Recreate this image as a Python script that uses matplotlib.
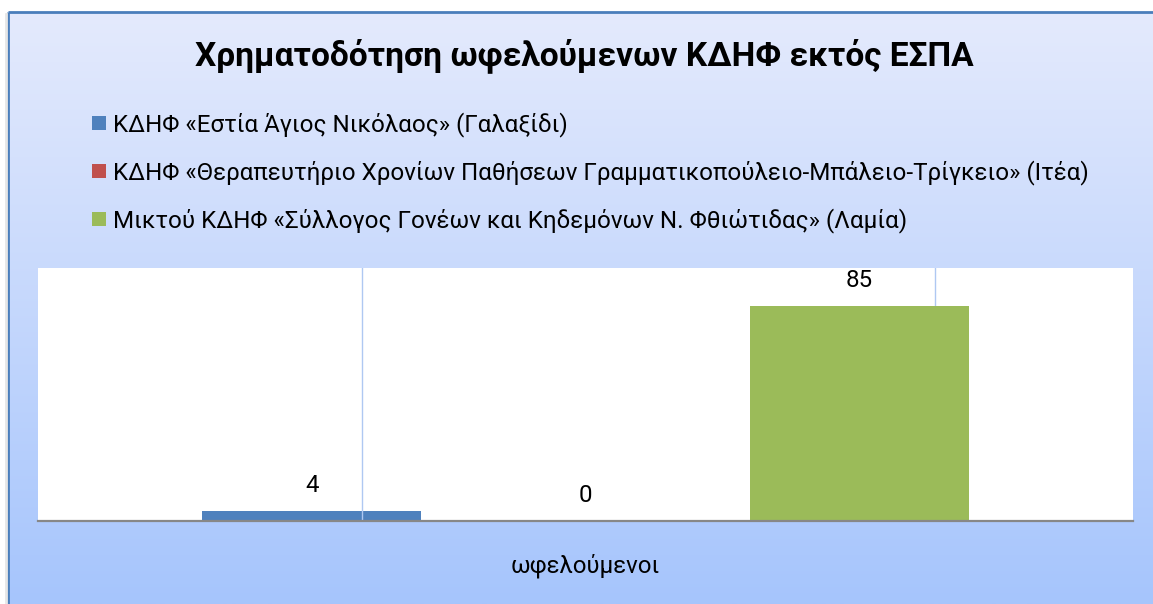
import numpy as np
import matplotlib
matplotlib.use("Agg")
import matplotlib.pyplot as plt
from matplotlib.patches import Rectangle

# ---- data ----
title = "Χρηματοδότηση ωφελούμενων ΚΔΗΦ εκτός ΕΣΠΑ"
category = "ωφελούμενοι"
series_names = [
    "ΚΔΗΦ «Εστία Άγιος Νικόλαος» (Γαλαξίδι)",
    "ΚΔΗΦ «Θεραπευτήριο Χρονίων Παθήσεων Γραμματικοπούλειο-Μπάλειο-Τρίγκειο» (Ιτέα)",
    "Μικτού ΚΔΗΦ «Σύλλογος Γονέων και Κηδεμόνων Ν. Φθιώτιδας» (Λαμία)",
]
series_values = [4, 0, 85]
series_colors = ["#4F81BD", "#C0504D", "#9BBB59"]

FAM = ["Roboto", "DejaVu Sans"]
plt.rcParams["font.family"] = FAM

W, H = 1153, 604
fig = plt.figure(figsize=(W / 100, H / 100), dpi=100)
fig.patch.set_facecolor("white")
renderer = fig.canvas.get_renderer()


def fit(text, target_px, weight="normal"):
    t = fig.text(0, 0, text, fontsize=20, fontweight=weight)
    w = t.get_window_extent(renderer).width
    t.remove()
    return 20 * target_px / w


def fx(px):
    return px / W


def fy(py):
    return 1 - py / H


# ---- background with gradient and border ----
bg = fig.add_axes([0, 0, 1, 1], zorder=-10)
bg.set_xlim(0, W)
bg.set_ylim(H, 0)
bg.axis("off")
top = np.array([228, 234, 253]) / 255
bot = np.array([166, 197, 252]) / 255
tt = np.linspace(0, 1, 256)[:, None]
grad = (top[None, :] * (1 - tt) + bot[None, :] * tt)[:, None, :]
bg.imshow(grad, extent=(9, W, H, 13), aspect="auto", interpolation="bilinear")
bg.plot([8, 8], [H, 12], color="#4A7EBB", lw=2, solid_capstyle="butt")
bg.plot([8, W], [12, 12], color="#4A7EBB", lw=2, solid_capstyle="butt")
bg.plot([6, 6], [H, 14], color="#E6E6E6", lw=2)

# ---- plot area ----
ax = fig.add_axes([fx(38), fy(521), fx(1133) - fx(38), fy(268) - fy(521)])
ax.set_facecolor("white")
n = len(series_values)
pos = np.arange(n) - (n - 1) / 2
ax.set_xlim(-2, 2)
ax.set_ylim(0, 100)
ax.axvline(-0.817, color="#AFC8F2", lw=1, zorder=2)
ax.axvline(1.278, color="#AFC8F2", lw=1, zorder=0.5)
bars = ax.bar(pos, series_values, width=0.8, color=series_colors, zorder=1)
for s in ["top", "left", "right"]:
    ax.spines[s].set_visible(False)
ax.spines["bottom"].set_color("#878787")
ax.spines["bottom"].set_linewidth(1.6)
ax.spines["bottom"].set_zorder(3)
ax.set_xticks([])
ax.set_yticks([])

lab_fs = fit(category, 149)
labels = ax.bar_label(bars, labels=[str(v) for v in series_values], padding=13.5,
                      fontsize=lab_fs, color="black")
for t in labels:
    t.set_va("baseline")

fig.text(fx(585.5), fy(572), category, ha="center", va="baseline",
         fontsize=lab_fs, color="black")

# ---- title ----
t_fs = fit(title, 777, "bold")
fig.text(fx(584.5), fy(65), title, ha="center", va="baseline",
         fontsize=t_fs, fontweight="bold", color="black")

# ---- legend ----
leg_fs = fit(series_names[1], 975)
for i, (name, col) in enumerate(zip(series_names, series_colors)):
    base = 131 + 48 * i
    fig.add_artist(Rectangle((fx(92), fy(base - 1)), fx(14), fy(0) - fy(14),
                             transform=fig.transFigure, facecolor=col,
                             edgecolor="none"))
    fig.text(fx(113), fy(base), name, ha="left", va="baseline",
             fontsize=leg_fs, color="black")

fig.savefig("out.png", dpi=100)
